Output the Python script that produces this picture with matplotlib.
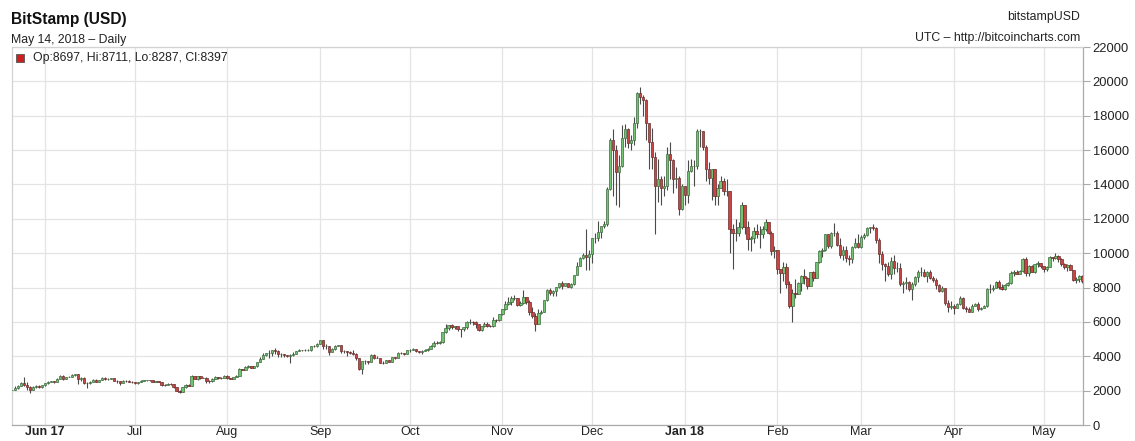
import numpy as np
import pandas as pd
import matplotlib
matplotlib.use("Agg")
import matplotlib.pyplot as plt
import matplotlib.dates as mdates
from matplotlib.patches import Rectangle

plt.rcParams['font.family'] = ['Liberation Sans', 'DejaVu Sans']

# daily candles, Bitstamp BTC/USD, 2017-05-21 .. 2018-05-14
first_day = "2017-05-21"
first_open = 2040

closes = [
    # May 17 (21-31)
    2050, 2130, 2280, 2450, 2330, 2200, 2050, 2200, 2280, 2190, 2300,
    # Jun
    2450, 2520, 2560, 2530, 2700, 2880, 2690, 2800, 2820, 2920, 2980, 2650, 2710, 2440, 2460,
    2510, 2640, 2520, 2610, 2750, 2660, 2700, 2710, 2580, 2550, 2430, 2580, 2570, 2530, 2480,
    # Jul
    2420, 2500, 2560, 2600, 2610, 2600, 2500, 2550, 2500, 2330, 2310, 2400, 2360, 2220, 1970, 1930,
    2230, 2320, 2270, 2860, 2670, 2830, 2750, 2760, 2570, 2540, 2690, 2800, 2720, 2760, 2870,
    # Aug
    2730, 2700, 2800, 2860, 3250, 3220, 3390, 3420, 3340, 3420, 3650, 3850, 4050, 4170, 4180, 4370,
    4280, 4110, 4160, 4060, 4000, 4090, 4150, 4310, 4360, 4350, 4390, 4390, 4590, 4570, 4740,
    # Sep
    4920, 4570, 4590, 4260, 4400, 4620, 4630, 4310, 4330, 4230, 4190, 4160, 3890, 3240, 3700,
    3700, 3690, 4080, 3920, 3890, 3610, 3600, 3780, 3670, 3930, 3890, 4200, 4190, 4160, 4340,
    # Oct
    4390, 4400, 4310, 4220, 4320, 4370, 4440, 4610, 4770, 4760, 4820, 5430, 5640, 5820, 5690, 5750,
    5600, 5580, 5700, 5990, 6020, 5980, 5900, 5510, 5740, 5890, 5770, 5740, 6130, 6120, 6440,
    # Nov
    6740, 7020, 7140, 7380, 7390, 6960, 7110, 7450, 7150, 6570, 6340, 5860, 6530, 6600, 7270,
    7830, 7690, 7780, 8030, 8250, 8090, 8240, 8050, 8220, 8740, 9280, 9720, 9900, 9800, 9930,
    # Dec
    10860, 10900, 11230, 11600, 11670, 13750, 16580, 16000, 14700, 15100, 16700, 17200, 16400, 16600, 17600, 19300,
    19100, 18900, 17600, 16500, 15600, 13900, 14300, 13800, 13900, 15800, 15400, 14300, 14400, 12600, 13900,
    # Jan 18
    13400, 14800, 15100, 15100, 17100, 17100, 16200, 14900, 14400, 14900, 13300, 13800, 14200, 13600, 13600, 11400,
    11200, 11200, 11500, 12800, 11500, 10800, 10900, 11300, 11100, 11100, 11400, 11800, 11200, 10100, 10200,
    # Feb
    9100, 8850, 9200, 8200, 6900, 7700, 7600, 8250, 8700, 8550, 8100, 8900, 8550, 9500,
    10100, 10200, 11100, 10400, 11200, 11200, 10500, 9900, 10200, 9700, 9650, 10350, 10600, 10350,
    # Mar
    10950, 11050, 11450, 11500, 11450, 10750, 9950, 9350, 9250, 8800, 9550, 9150, 9150, 8200, 8250, 8300,
    7900, 8200, 8600, 8900, 8900, 8700, 8900, 8550, 8450, 8150, 7800, 7950, 7100, 6850, 6950,
    # Apr
    6800, 7050, 7420, 6800, 6780, 6600, 6900, 7030, 6770, 6830, 6940, 7920, 7890, 8000, 8350,
    8050, 7900, 8170, 8280, 8860, 8920, 8800, 8940, 9650, 8870, 9280, 8930, 9350, 9400, 9240,
    # May 18 (1-14)
    9070, 9220, 9750, 9700, 9850, 9650, 9370, 9190, 9320, 9030, 8450, 8500, 8697, 8397,
]

highs = [
    2100, 2280, 2300, 2500, 2790, 2480, 2250, 2250, 2320, 2300, 2330,
    2470, 2540, 2580, 2570, 2710, 2920, 2900, 2810, 2840, 2940, 2990, 2980, 2800, 2800, 2500,
    2550, 2650, 2660, 2620, 2780, 2770, 2740, 2760, 2720, 2610, 2580, 2600, 2630, 2600, 2560,
    2510, 2510, 2590, 2640, 2620, 2630, 2600, 2560, 2580, 2530, 2400, 2420, 2430, 2380, 2230, 2040,
    2240, 2400, 2410, 2900, 2880, 2870, 2850, 2780, 2770, 2620, 2710, 2830, 2820, 2780, 2890,
    2930, 2760, 2810, 2900, 3330, 3270, 3420, 3500, 3420, 3450, 3680, 3970, 4190, 4200, 4350, 4390,
    4480, 4370, 4180, 4140, 4090, 4130, 4250, 4330, 4440, 4380, 4400, 4400, 4620, 4660, 4750,
    4930, 4960, 4700, 4590, 4500, 4680, 4680, 4670, 4390, 4310, 4320, 4360, 4180, 3920, 3750,
    3790, 3720, 4110, 4110, 4040, 3900, 3740, 3790, 3780, 3980, 3960, 4220, 4270, 4210, 4360,
    4410, 4470, 4440, 4330, 4380, 4440, 4470, 4630, 4860, 4900, 4870, 5440, 5850, 5840, 5860, 5790,
    5760, 5610, 5720, 6040, 6190, 6080, 6040, 5900, 5760, 5980, 6000, 5840, 6300, 6170, 6470,
    6760, 7200, 7450, 7500, 7580, 7400, 7200, 7880, 7440, 7300, 6860, 6500, 6760, 6700, 7290,
    7890, 7980, 7850, 8040, 8290, 8370, 8290, 8280, 8290, 8750, 9460, 9750, 9990, 11400, 10200,
    10900, 11200, 11850, 11600, 11850, 13850, 16680, 17200, 16300, 15700, 17450, 17500, 17300, 16900, 17900, 19400,
    19666, 19200, 19000, 17600, 17300, 15900, 15500, 14500, 14500, 16200, 16500, 15500, 15000, 14500, 14000,
    13900, 15400, 15500, 15400, 17200, 17250, 17100, 16300, 15300, 14900, 14900, 14000, 14500, 14400, 14300, 13600,
    11700, 12000, 11800, 13000, 12800, 11900, 11000, 11500, 11700, 11600, 11600, 12000, 11800, 11300, 10400,
    10200, 9100, 9500, 9400, 8400, 7900, 8500, 8300, 8750, 9100, 8600, 8900, 8950, 9500,
    10200, 10300, 11100, 11100, 11250, 11780, 11300, 10900, 10400, 10400, 9900, 10400, 10900, 11100,
    11050, 11200, 11500, 11550, 11700, 11500, 10900, 10100, 9450, 9500, 9750, 9900, 9500, 9400, 8400, 8600,
    8400, 8300, 8700, 9050, 9200, 9100, 8950, 9000, 8700, 8550, 8200, 8100, 7950, 7300, 7200,
    7050, 7100, 7500, 7440, 6900, 6850, 7050, 7100, 7180, 6880, 6980, 8000, 8200, 8150, 8400,
    8420, 8180, 8200, 8300, 8950, 9050, 9000, 9000, 9730, 9750, 9300, 9300, 9380, 9520, 9450,
    9270, 9250, 9840, 9780, 9990, 9900, 9700, 9450, 9380, 9380, 9050, 8630, 8720, 8711,
]

lows = [
    1960, 2040, 2110, 2270, 2290, 2050, 1850, 2040, 2150, 2150, 2180,
    2280, 2410, 2480, 2470, 2520, 2690, 2620, 2650, 2770, 2800, 2880, 2400, 2580, 2380, 2160,
    2400, 2480, 2500, 2480, 2600, 2630, 2620, 2660, 2560, 2460, 2310, 2420, 2500, 2510, 2460,
    2380, 2410, 2480, 2550, 2560, 2560, 2480, 2490, 2480, 2270, 2290, 2310, 2310, 2180, 1950, 1840,
    1930, 2180, 2270, 2270, 2650, 2640, 2700, 2710, 2460, 2460, 2520, 2670, 2670, 2700, 2740,
    2660, 2650, 2690, 2790, 2850, 3180, 3200, 3330, 3290, 3320, 3400, 3640, 3840, 3990, 3900, 4000,
    4110, 3960, 3960, 3970, 3970, 3580, 4040, 4120, 4290, 4300, 4330, 4280, 4330, 4550, 4550,
    4700, 4430, 4400, 4100, 4240, 4380, 4580, 4200, 4200, 4000, 4140, 4100, 3760, 3200, 2970,
    3550, 3550, 3680, 3850, 3880, 3580, 3550, 3590, 3640, 3650, 3860, 3880, 4120, 4060, 4150,
    4220, 4340, 4230, 4170, 4140, 4300, 4300, 4410, 4560, 4700, 4720, 4800, 5370, 5550, 5570, 5570,
    5500, 5100, 5500, 5600, 5900, 5800, 5660, 5480, 5480, 5690, 5720, 5690, 5680, 6020, 6080,
    6380, 6720, 6990, 6980, 7300, 6900, 6950, 7070, 7070, 6400, 6200, 5500, 5860, 6460, 6600,
    7230, 7550, 7500, 7510, 8000, 7900, 8070, 8010, 8000, 8140, 8730, 9250, 9680, 9000, 9000,
    9400, 10600, 10700, 10900, 11470, 11600, 13700, 13300, 12800, 12700, 15000, 16200, 16100, 16000, 16300, 17300,
    18700, 18000, 16600, 14900, 14900, 11100, 13000, 12800, 13300, 13700, 14300, 13500, 13800, 12200, 12500,
    12800, 12900, 14700, 13900, 14900, 16200, 16000, 14200, 14000, 13100, 12800, 12800, 13800, 13400, 13300, 10000,
    9100, 10700, 11000, 11400, 11100, 10200, 10100, 10600, 10900, 10300, 10900, 11300, 11100, 9900, 9700,
    8800, 7700, 8400, 8000, 6800, 6000, 7400, 7600, 7800, 8200, 7900, 8100, 8400, 8550,
    9400, 9800, 10100, 10300, 10300, 11000, 10400, 9700, 9600, 9500, 9300, 9400, 10300, 10300,
    10300, 10800, 11000, 11200, 11350, 10600, 9400, 9050, 8400, 8700, 8500, 8800, 8900, 8100, 7700, 7900,
    7800, 7300, 8100, 8300, 8700, 8600, 8300, 8500, 8350, 7900, 7750, 7750, 7000, 6600, 6750,
    6450, 6800, 7000, 6750, 6600, 6550, 6570, 6900, 6630, 6700, 6800, 6850, 7700, 7820, 7990,
    7920, 7840, 7870, 8100, 8200, 8700, 8770, 8800, 8900, 8700, 8700, 8900, 8850, 9200, 9150,
    8880, 8950, 9180, 9520, 9660, 9480, 9250, 9070, 8950, 9010, 8380, 8250, 8350, 8287,
]

month_starts = ["2017-06-01", "2017-07-01", "2017-08-01", "2017-09-01", "2017-10-01", "2017-11-01",
                "2017-12-01", "2018-01-01", "2018-02-01", "2018-03-01", "2018-04-01", "2018-05-01"]
month_labels = ["Jun 17", "Jul", "Aug", "Sep", "Oct", "Nov", "Dec", "Jan 18", "Feb", "Mar", "Apr", "May"]
year_labels = ["Jun 17", "Jan 18"]
y_ticks = list(range(0, 22001, 2000))

opens = [first_open] + closes[:-1]
dates = pd.date_range(first_day, periods=len(closes), freq="D")
x = mdates.date2num(dates.to_pydatetime())
o = np.array(opens, dtype=float)
c = np.array(closes, dtype=float)
h = np.maximum(np.array(highs, dtype=float), np.maximum(o, c))
l = np.minimum(np.array(lows, dtype=float), np.minimum(o, c))
up = c >= o

W, H = 1135, 441
fig = plt.figure(figsize=(W / 100, H / 100), dpi=100)
ax = fig.add_axes([12 / W, (H - 425) / H, (1083 - 12) / W, (425 - 47) / H])

# grid
xt = mdates.date2num(pd.to_datetime(month_starts).to_pydatetime())
for v in xt:
    ax.axvline(v, color="#e4e4e4", lw=0.9, zorder=0)
for v in y_ticks:
    ax.axhline(v, color="#e4e4e4", lw=0.9, zorder=0)

# candles
ax.vlines(x, l, h, color="#4a4a4a", lw=0.8, zorder=2)
body_w = 0.8
ax.bar(x[up], c[up] - o[up], bottom=o[up], width=body_w,
       color="#72c472", edgecolor="#3d6b3d", linewidth=0.5, zorder=3)
ax.bar(x[~up], o[~up] - c[~up], bottom=c[~up], width=body_w,
       color="#c74545", edgecolor="#6b2c2c", linewidth=0.5, zorder=3)

ax.set_xlim(x[0] - 0.05, x[-1] + 0.2)
ax.set_ylim(0, 22000)

ax.set_xticks(xt)
ax.set_xticklabels(month_labels)
for t in ax.get_xticklabels():
    if t.get_text() in year_labels:
        t.set_fontweight("bold")
ax.tick_params(axis="x", length=0, pad=1, labelsize=9, colors="#222222")

ax.yaxis.tick_right()
ax.set_yticks(y_ticks)
ax.set_yticklabels([str(v) for v in y_ticks])
ax.tick_params(axis="y", length=5, width=0.8, color="#aaaaaa", pad=2, labelsize=9.3,
               labelcolor="#222222")

for s in ["top", "left"]:
    ax.spines[s].set_color("#d2d2d2")
    ax.spines[s].set_linewidth(0.9)
for s in ["right", "bottom"]:
    ax.spines[s].set_color("#aaaaaa")
    ax.spines[s].set_linewidth(0.9)

# header texts
fig.text(11 / W, 1 - 24 / H, "BitStamp (USD)", fontsize=11.2, fontweight="bold",
         color="#111111", va="baseline")
fig.text(11 / W, 1 - 43 / H, "May 14, 2018 \u2013 Daily", fontsize=8.8, color="#222222", va="baseline")
fig.text(1080 / W, 1 - 20 / H, "bitstampUSD", fontsize=8.8, color="#222222", ha="right", va="baseline")
fig.text(1080 / W, 1 - 41 / H, "UTC \u2013 http://bitcoincharts.com", fontsize=8.8, color="#222222",
         ha="right", va="baseline")

# last candle info
fig.add_artist(Rectangle((16 / W, 1 - 62 / H), 8 / W, 8 / H, transform=fig.transFigure,
                         facecolor="#cc1f1f", edgecolor="#555555", linewidth=0.6))
fig.text(33 / W, 1 - 61 / H, "Op:%d, Hi:%d, Lo:%d, Cl:%d" % (opens[-1], highs[-1], lows[-1], closes[-1]),
         fontsize=8.8, color="#222222", va="baseline")

fig.savefig("out.png", dpi=100)
